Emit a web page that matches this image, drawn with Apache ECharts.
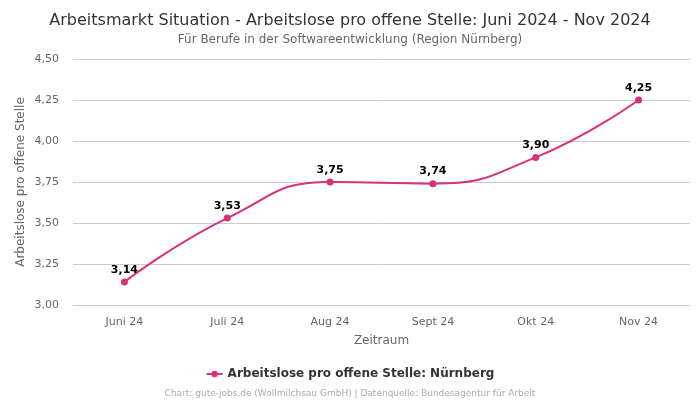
<!DOCTYPE html>
<html><head><meta charset="utf-8">
<script src="https://cdn.jsdelivr.net/npm/echarts@6/dist/echarts.min.js"></script>
<style>html,body{margin:0;padding:0;background:#fff}#c{width:700px;height:400px}</style>
</head><body><div id="c"></div>
<script>
const categories = ['Juni 24','Juli 24','Aug 24','Sept 24','Okt 24','Nov 24'];
const values = [3.14, 3.53, 3.75, 3.74, 3.90, 4.25];
const seriesName = 'Arbeitslose pro offene Stelle: Nürnberg';
const fmt = v => v.toFixed(2).replace('.', ',');
const chart = echarts.init(document.getElementById('c'));
chart.setOption({
  textStyle:{fontFamily:'DejaVu Sans'},
  title:[{text:'Arbeitsmarkt Situation - Arbeitslose pro offene Stelle: Juni 2024 - Nov 2024',left:'center',top:8,textStyle:{fontSize:16,fontWeight:'normal',color:'#333',fontFamily:'DejaVu Sans'}},
         {text:'Für Berufe in der Softwareentwicklung (Region Nürnberg)',left:'center',top:29,textStyle:{fontSize:12,fontWeight:'normal',color:'#666',fontFamily:'DejaVu Sans'}},
         {text:'Chart: gute-jobs.de (Wollmilchsau GmbH) | Datenquelle: Bundesagentur für Arbeit',left:'center',top:384,textStyle:{fontSize:9,fontWeight:'normal',color:'#aaa',fontFamily:'DejaVu Sans'}}],
  legend:{top:363,left:'center',itemWidth:16,itemHeight:8,itemGap:10,textStyle:{fontSize:12,fontWeight:'bold',color:'#333'},data:[seriesName]},
  grid:{left:73,right:10,top:59,bottom:95},
  xAxis:{type:'category',data:categories,name:'Zeitraum',nameLocation:'middle',nameGap:30,nameTextStyle:{color:'#666',fontSize:12},
    axisLine:{lineStyle:{color:'#ccc'}},axisTick:{show:false},axisLabel:{color:'#666',fontSize:11,margin:12}},
  yAxis:{type:'value',min:3,max:4.5,interval:0.25,name:'Arbeitslose pro offene Stelle',nameLocation:'middle',nameGap:46,nameMoveOverlap:false,nameTextStyle:{color:'#666',fontSize:12},
    axisLabel:{color:'#666',fontSize:11,margin:14,formatter:fmt},splitLine:{lineStyle:{color:'#ccc'}}},
  series:[{name:seriesName,type:'line',data:values,smooth:true,symbol:'circle',symbolSize:7,
    itemStyle:{color:'#d6317a'},lineStyle:{color:'#d6317a',width:2},
    label:{show:true,position:'top',distance:3,formatter:p=>fmt(p.value),fontWeight:'bold',color:'#000',fontSize:11}}]
});
</script></body></html>
